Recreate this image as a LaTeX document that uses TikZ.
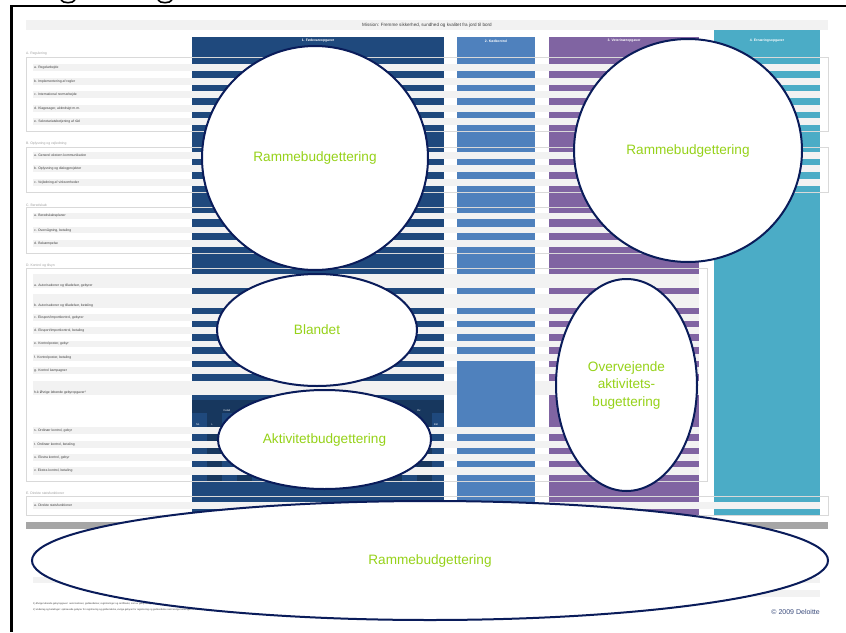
\documentclass[tikz,border=0pt]{standalone}
\usepackage{fontspec}
\setmainfont{Liberation Sans}
\usetikzlibrary{shapes.geometric}
\definecolor{colA}{HTML}{1F497D}
\definecolor{colAd}{HTML}{17375E}
\definecolor{colB}{HTML}{4F81BD}
\definecolor{colC}{HTML}{8064A2}
\definecolor{colD}{HTML}{4BACC6}
\definecolor{rowgray}{HTML}{F2F2F2}
\definecolor{boxgray}{HTML}{D9D9D9}
\definecolor{bargray}{HTML}{A6A6A6}
\definecolor{navy}{HTML}{0A1C5A}
\definecolor{lime}{RGB}{150,210,25}
\definecolor{labgray}{HTML}{A0A0A0}
\definecolor{txtgray}{HTML}{404040}
\definecolor{deloitte}{HTML}{3B4C7C}
\newcommand\rowbar[6]{\fill[rowgray] (33,#2) rectangle (#4,#3); \node[rowlab] (#1) at (34,#6) {#5};}
\begin{document}
\begin{tikzpicture}[x=1pt,y=-1pt,
  bubble/.style={ellipse, draw=navy, line width=2pt, fill=white, inner sep=0pt, text=lime, font=\fontsize{13.6}{17.5}\selectfont, align=center},
  rowlab/.style={anchor=west, inner sep=0pt, text=txtgray, font=\fontsize{3.4}{4}\selectfont},
  seclab/.style={anchor=west, inner sep=0pt, text=labgray, font=\fontsize{3.4}{4}\selectfont},
  colhead/.style={inner sep=0pt, text=white, font=\bfseries\fontsize{3.4}{4}\selectfont},
  subhead/.style={inner sep=0pt, text=white, font=\fontsize{2.6}{3}\selectfont},
  secbox/.style={draw=boxgray, line width=0.8pt},
  foot/.style={anchor=west, inner sep=0pt, text=txtgray, font=\fontsize{2.4}{3}\selectfont}
]
\useasboundingbox (0,0) rectangle (846,632);
\fill[white] (0,0) rectangle (846,632);
% frame and cut heading
\draw[line width=2.5pt] (10,6.2) -- (846,6.2);
\draw[line width=2.5pt] (11.5,5) -- (11.5,632);
\draw[line width=1.6pt] (61,0) .. controls (63,3.6) and (73,3.6) .. (75,0);
\draw[line width=1.6pt] (158,0) .. controls (160,3.6) and (170,3.6) .. (172,0);
% mission bar
\fill[rowgray] (26,20) rectangle (828,30);
\node[inner sep=0pt, text=txtgray, font=\fontsize{4.6}{5}\selectfont] (mis) at (427,25) {Mission: Fremme sikkerhed, sundhed og kvalitet fra jord til bord};
% columns
\fill[colA] (192,37) rectangle (444,515);
\fill[colB] (457,37) rectangle (535,515);
\fill[colC] (549,37) rectangle (699,515);
\fill[colD] (714,30) rectangle (820,515);
% detail sub-table in column 1
\fill[colAd] (192,400) rectangle (444,481);
\foreach \k in {0,...,8} { \fill[colA] ({192+30*\k},413) rectangle ({min(192+30*\k+15,444)},481); }
\node[subhead] (d1) at (227,411) {Detail};
\node[subhead] (d2) at (198,425) {Mi.};
\node[subhead] (d3) at (212,425) {L};
\node[subhead] (d4) at (419,411) {Ov.};
\node[subhead] (d5) at (436,425) {Ekt};
% column headers
\node[colhead] (h1) at (318,41) {1. Fødevareopgaver};
\node[colhead] (h2) at (496,41) {2. Kødkontrol};
\node[colhead] (h3) at (624,41) {3. Veterinæropgaver};
\node[colhead] (h4) at (767,41) {4. Ernæringsopgaver};
% section A
\node[seclab] (sA) at (26,54) {A. Regulering};
\rowbar{a1}{64}{71}{820}{a. Regelarbejde}{67.5}
\rowbar{a2}{78}{85}{820}{b. Implementering af regler}{81.5}
\rowbar{a3}{91}{98}{820}{c. International normarbejde}{94.5}
\rowbar{a4}{105}{112}{820}{d. Klagesager, aktindsigt m.m.}{108.5}
\rowbar{a5}{118}{125}{820}{e. Sekretariatsbetjening af råd}{121.5}
% section B
\node[seclab] (sB) at (26,144) {B. Oplysning og vejledning};
\rowbar{b1}{152}{159}{820}{a. Generel ekstern kommunikation}{155.5}
\rowbar{b2}{165}{172}{820}{b. Oplysning og dialogprojekter}{168.5}
\rowbar{b3}{179}{186}{820}{c. Vejledning af virksomheder}{182.5}
% section C
\node[seclab] (sC) at (26,205) {C. Beredskab};
\rowbar{c1}{213}{219}{699}{a. Beredskabsplaner}{216}
\rowbar{c2}{227}{233}{699}{c. Overvågning, betaling}{230}
\rowbar{c3}{240}{247}{699}{d. Bekæmpelse}{243.5}
% section D
\node[seclab] (sD) at (26,266) {D. Kontrol og tilsyn};
\rowbar{k1}{274}{288}{699}{a. Autorisationer og tilladelser, gebyrer}{285.5}
\rowbar{k2}{294}{308}{699}{b. Autorisationer og tilladelser, betaling}{305.5}
\rowbar{k3}{314}{321}{699}{c. Eksport/importkontrol, gebyrer}{317.5}
\rowbar{k4}{327}{334}{699}{d. Eksport/importkontrol, betaling}{330.5}
\rowbar{k5}{341}{347}{699}{e. Kontrolposter, gebyr}{344}
\rowbar{k6}{354}{361}{699}{f. Kontrolposter, betaling}{357.5}
\rowbar{k7}{367}{374}{699}{g. Kontrol kampagner}{370.5}
\rowbar{k8}{381}{395}{699}{h-k Øvrige løbende gebyropgaver¹}{392.5}
\rowbar{k9}{427}{434}{699}{s. Ordinær kontrol, gebyr}{430.5}
\rowbar{k10}{441}{448}{699}{t. Ordinær kontrol, betaling}{444.5}
\rowbar{k11}{454}{461}{699}{u. Ekstra kontrol, gebyr}{457.5}
\rowbar{k12}{467}{475}{699}{v. Ekstra kontrol, betaling}{471}
\fill[colB] (457,361) rectangle (535,427);
\fill[colC] (549,395) rectangle (699,427);
% section E
\node[seclab] (sE) at (26,493) {E. Direkte statsfunktioner};
\rowbar{e1}{502}{509}{820}{a. Direkte statsfunktioner}{505.5}
% section boxes
\draw[secbox] (26,57) rectangle (828,131);
\draw[secbox] (26,147) rectangle (828,192);
\draw[secbox] (26,207) rectangle (707,253);
\draw[secbox] (26,268) rectangle (707,481);
\draw[secbox] (26,496) rectangle (828,515);
% bottom area
\fill[bargray] (26,522) rectangle (828,529);
\fill[rowgray] (33,550) rectangle (820,557);
\fill[rowgray] (33,577) rectangle (820,583);
\fill[rowgray] (740,590) rectangle (820,597);
\node[foot] (f1) at (33,604) {1) Øvrige løbende gebyropgaver: autorisationer, godkendelser, registreringer og certifikater, som er gebyrbelagte og udføres efter behov hos den enkelte virksomhed};
\node[foot] (f2) at (33,610) {2) Vederlag og betalinger: opkrævede gebyrer for registrering og godkendelse, øvrige gebyrer for registrering og godkendelse samt øvrige betalinger for kontrol};
\node[anchor=east, inner sep=0pt, text=deloitte, font=\fontsize{7}{8}\selectfont] (copy) at (820,612) {© 2009 Deloitte};
% overlay ellipses
\node[bubble, minimum width=226pt, minimum height=224pt] (e1) at (315,158) {Rammebudgettering};
\node[bubble, minimum width=228pt, minimum height=223pt] (e2) at (688,150.5) {Rammebudgettering};
\node[bubble, minimum width=200pt, minimum height=112pt] (e3) at (317,330) {Blandet};
\node[bubble, minimum width=213pt, minimum height=99pt] (e4) at (324.5,439.5) {Aktivitetbudgettering};
\node[bubble, minimum width=141pt, minimum height=212pt] (e5) at (626.5,385) {Overvejende\\aktivitets-\\bugettering};
\node[bubble, minimum width=796pt, minimum height=119pt] (e6) at (430,560.5) {Rammebudgettering};
\end{tikzpicture}
\end{document}
